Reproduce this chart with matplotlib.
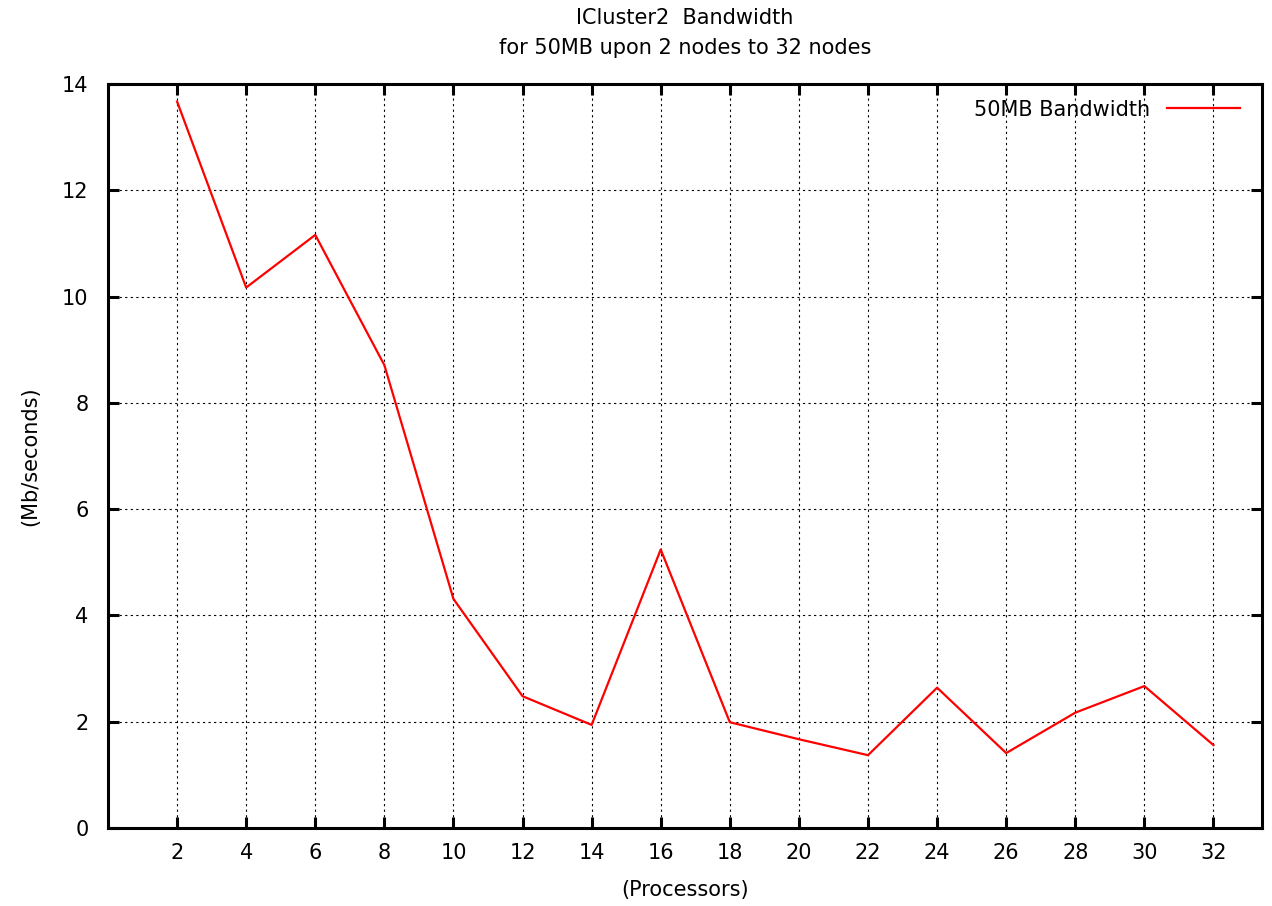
import matplotlib.pyplot as plt

plt.rcParams['font.family'] = ['DejaVu Sans']

processors = [2, 4, 6, 8, 10, 12, 14, 16, 18, 20, 22, 24, 26, 28, 30, 32]
bandwidth = [13.67, 10.17, 11.16, 8.71, 4.31, 2.48, 1.94, 5.24,
             1.99, 1.67, 1.37, 2.64, 1.41, 2.17, 2.67, 1.56]
yticks = [0, 2, 4, 6, 8, 10, 12, 14]

fig = plt.figure(figsize=(12.72, 9.06), dpi=100)
ax = fig.add_axes([0.0849, 0.0861, 0.9071, 0.8212])

ax.plot(processors, bandwidth, color='red', linewidth=1.6, label='50MB Bandwidth')

ax.set_xlim(0, 33.4)
ax.set_ylim(0, 14)
ax.set_xticks(processors)
ax.set_yticks(yticks)

ax.grid(True, color='black', linestyle=(0, (2, 3)), linewidth=0.8)
for s in ax.spines.values():
    s.set_linewidth(2.2)
ax.tick_params(direction='in', length=8, width=2.2, top=True, right=True,
               labelsize=15)
ax.tick_params(axis='y', pad=14)
ax.tick_params(axis='x', pad=11)

ax.set_title('ICluster2  Bandwidth\nfor 50MB upon 2 nodes to 32 nodes',
             fontsize=15, pad=21.5, linespacing=1.65)
ax.set_xlabel('(Processors)', fontsize=15, labelpad=12)
ax.set_ylabel('(Mb/seconds)', fontsize=15, labelpad=16)

ax.legend(loc='upper right', frameon=False, markerfirst=False, fontsize=15,
          handlelength=3.5, handletextpad=0.8, borderpad=0, borderaxespad=0,
          bbox_to_anchor=(0.981, 0.979))

fig.savefig('out.png', dpi=100)
